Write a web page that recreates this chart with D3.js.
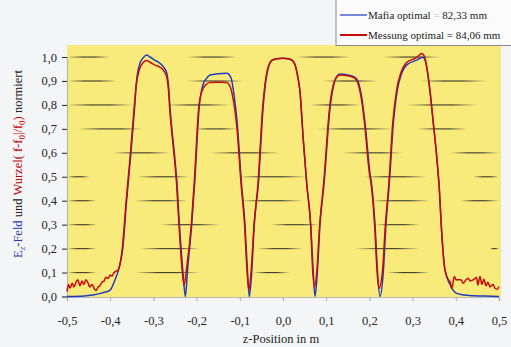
<!DOCTYPE html>
<html>
<head>
<meta charset="utf-8">
<script src="https://cdn.jsdelivr.net/npm/d3@7"></script>
<style>
  html, body { margin: 0; padding: 0; background: #f4f5f7; }
  svg { display: block; }
  svg text { font-family: "Liberation Serif", "DejaVu Serif", serif; }
</style>
</head>
<body>
<svg id="chart" width="511" height="347"></svg>
<script>
// Werte (z in m, Feld normiert)
const xTicks = [-0.5, -0.4, -0.3, -0.2, -0.1, 0.0, 0.1, 0.2, 0.3, 0.4, 0.5];
const xTickLabels = ["-0,5", "-0,4", "-0,3", "-0,2", "-0,1", "0,0", "0,1", "0,2", "0,3", "0,4", "0,5"];
const yTicks = [0, 0.1, 0.2, 0.3, 0.4, 0.5, 0.6, 0.7, 0.8, 0.9, 1.0];
const yTickLabels = ["0,0", "0,1", "0,2", "0,3", "0,4", "0,5", "0,6", "0,7", "0,8", "0,9", "1,0"];

const seriesNames = ["Mafia optimal", "Messung optimal"];
const seriesValues = ["82,33 mm", "84,06 mm"];

// Mafia (blau)
const mafia = [
  [-0.5, 0.0], [-0.46, 0.002], [-0.44, 0.006], [-0.42, 0.014], [-0.40, 0.027],
  [-0.389, 0.069], [-0.381, 0.11], [-0.371, 0.2], [-0.362, 0.4], [-0.352, 0.6],
  [-0.343, 0.8], [-0.339, 0.9], [-0.331, 0.974], [-0.323, 0.998], [-0.316, 1.008],
  [-0.308, 1.0], [-0.295, 0.985], [-0.285, 0.974], [-0.275, 0.955], [-0.269, 0.932],
  [-0.265, 0.88], [-0.2616, 0.79], [-0.25, 0.57], [-0.246, 0.487], [-0.24, 0.306],
  [-0.232, 0.11], [-0.226, 0.0], [-0.221, 0.11], [-0.211, 0.306], [-0.204, 0.487],
  [-0.194, 0.79], [-0.186, 0.88], [-0.177, 0.911], [-0.169, 0.925], [-0.15, 0.93],
  [-0.13, 0.932], [-0.12, 0.911], [-0.115, 0.862], [-0.106, 0.723], [-0.096, 0.47],
  [-0.088, 0.3], [-0.082, 0.097], [-0.078, 0.0], [-0.0725, 0.097], [-0.0665, 0.3],
  [-0.057, 0.47], [-0.046, 0.79], [-0.038, 0.92], [-0.026, 0.985], [-0.015, 0.993],
  [0.0, 0.995], [0.012, 0.993], [0.022, 0.985], [0.028, 0.967], [0.034, 0.92],
  [0.039, 0.862], [0.047, 0.653], [0.055, 0.47], [0.064, 0.3], [0.0703, 0.097],
  [0.074, 0.0], [0.0794, 0.097], [0.0856, 0.3], [0.095, 0.47], [0.109, 0.79],
  [0.117, 0.88], [0.124, 0.918], [0.132, 0.929], [0.15, 0.925], [0.1667, 0.915],
  [0.174, 0.897], [0.182, 0.834], [0.19, 0.723], [0.2014, 0.514], [0.205, 0.47],
  [0.213, 0.3], [0.219, 0.097], [0.2245, 0.0], [0.232, 0.097], [0.2384, 0.3],
  [0.246, 0.47], [0.2554, 0.723], [0.2646, 0.862], [0.2748, 0.932], [0.2864, 0.967],
  [0.3095, 0.987], [0.3234, 0.999], [0.3326, 0.96], [0.34, 0.862], [0.348, 0.723],
  [0.3558, 0.584], [0.362, 0.445], [0.367, 0.278], [0.375, 0.11], [0.387, 0.048],
  [0.402, 0.013], [0.43, 0.004], [0.467, 0.002], [0.5, 0.0]
];

// Messung (rot)
const messung = [
  [-0.5, 0.02], [-0.4965, 0.05], [-0.493, 0.035], [-0.488, 0.055], [-0.484, 0.04],
  [-0.479, 0.06], [-0.475, 0.07], [-0.470, 0.045], [-0.465, 0.065], [-0.461, 0.05],
  [-0.456, 0.07], [-0.451, 0.055], [-0.447, 0.04], [-0.442, 0.05], [-0.4375, 0.035],
  [-0.433, 0.025], [-0.428, 0.04], [-0.424, 0.045], [-0.419, 0.06], [-0.414, 0.065],
  [-0.410, 0.08], [-0.405, 0.075], [-0.400, 0.09], [-0.396, 0.085], [-0.391, 0.1],
  [-0.387, 0.105], [-0.382, 0.11], [-0.372, 0.2], [-0.363, 0.4], [-0.353, 0.6],
  [-0.344, 0.8], [-0.340, 0.88], [-0.332, 0.95], [-0.323, 0.978], [-0.316, 0.985],
  [-0.308, 0.978], [-0.295, 0.965], [-0.285, 0.958], [-0.275, 0.94], [-0.269, 0.915],
  [-0.265, 0.86], [-0.262, 0.78], [-0.251, 0.57], [-0.247, 0.487], [-0.241, 0.306],
  [-0.234, 0.12], [-0.229, 0.048], [-0.223, 0.12], [-0.212, 0.306], [-0.205, 0.487],
  [-0.195, 0.79], [-0.187, 0.86], [-0.178, 0.885], [-0.17, 0.893], [-0.15, 0.895],
  [-0.13, 0.893], [-0.122, 0.875], [-0.117, 0.84], [-0.107, 0.71], [-0.097, 0.47],
  [-0.089, 0.3], [-0.083, 0.1], [-0.079, 0.027], [-0.074, 0.1], [-0.067, 0.3],
  [-0.058, 0.47], [-0.047, 0.79], [-0.039, 0.92], [-0.027, 0.985], [-0.015, 0.993],
  [0.0, 0.995], [0.012, 0.993], [0.022, 0.985], [0.028, 0.967], [0.034, 0.92],
  [0.039, 0.862], [0.047, 0.653], [0.055, 0.47], [0.064, 0.3], [0.069, 0.1],
  [0.073, 0.038], [0.078, 0.1], [0.085, 0.3], [0.094, 0.47], [0.108, 0.79],
  [0.116, 0.88], [0.123, 0.912], [0.131, 0.925], [0.15, 0.922], [0.166, 0.912],
  [0.173, 0.893], [0.181, 0.83], [0.189, 0.72], [0.2, 0.514], [0.204, 0.47],
  [0.212, 0.3], [0.218, 0.1], [0.222, 0.034], [0.23, 0.1], [0.237, 0.3],
  [0.245, 0.47], [0.254, 0.723], [0.263, 0.862], [0.273, 0.935], [0.285, 0.975],
  [0.3, 0.99], [0.31, 0.998], [0.321, 1.015], [0.328, 1.0], [0.333, 0.955],
  [0.34, 0.862], [0.348, 0.723], [0.3558, 0.584], [0.362, 0.445], [0.367, 0.278],
  [0.375, 0.11], [0.383, 0.07], [0.387, 0.06], [0.391, 0.034], [0.3965, 0.083],
  [0.401, 0.069], [0.405, 0.07], [0.412, 0.07], [0.417, 0.055], [0.4236, 0.07],
  [0.429, 0.076], [0.433, 0.065], [0.4405, 0.07], [0.448, 0.079], [0.451, 0.048],
  [0.456, 0.083], [0.4606, 0.05], [0.465, 0.072], [0.47, 0.045], [0.4745, 0.06],
  [0.479, 0.04], [0.486, 0.05], [0.4907, 0.035], [0.4954, 0.03], [0.5, 0.041]
];

// Reste der Gitterlinien: [Niveau, z von, z bis]
const gridSegments = [
  [1.0, -0.5, -0.4], [1.0, -0.222, -0.106], [1.0, 0.032, 0.155], [1.0, 0.231, 0.363],
  [0.9, -0.5, -0.384], [0.9, -0.222, -0.093], [0.9, 0.093, 0.218], [0.9, 0.317, 0.472],
  [0.8, -0.5, -0.347], [0.8, -0.27, -0.123], [0.8, 0.0625, 0.178], [0.8, 0.287, 0.449],
  [0.7, -0.475, -0.324], [0.7, -0.208, -0.106], [0.7, 0.079, 0.255], [0.7, 0.31, 0.426],
  [0.6, -0.394, -0.262], [0.6, -0.169, -0.007], [0.6, 0.139, 0.278], [0.6, 0.387, 0.5],
  [0.5, -0.5, -0.447], [0.5, -0.338, -0.215], [0.5, -0.106, 0.056], [0.5, 0.185, 0.333], [0.5, 0.44, 0.5],
  [0.4, -0.5, -0.431], [0.4, -0.343, -0.22], [0.4, -0.0995, 0.046], [0.4, 0.206, 0.34], [0.4, 0.41, 0.5],
  [0.3, -0.5, -0.431], [0.3, -0.285, -0.146], [0.3, -0.03, 0.0856], [0.3, 0.213, 0.317],
  [0.2, -0.5, -0.431], [0.2, -0.331, -0.192], [0.2, -0.06, 0.046], [0.2, 0.167, 0.317], [0.2, 0.479, 0.5],
  [0.1, -0.5, -0.431], [0.1, -0.343, -0.192], [0.1, -0.069, 0.016], [0.1, 0.241, 0.34]
];

const serif = '"Liberation Serif", "DejaVu Serif", serif';
const svg = d3.select('#chart');

const x = d3.scaleLinear().domain([-0.5, 0.5]).range([67, 499]);
const y = d3.scaleLinear().domain([0, 1]).range([296.5, 57]);

// gelber Hintergrund
svg.append('rect')
  .attr('x', x(-0.5))
  .attr('y', 45)
  .attr('width', 434)
  .attr('height', y(0) - 45 + 1.5)
  .attr('fill', '#f9eb7b');

// Verlauf für die Gitterstriche
const defs = svg.append('defs');
const grad = defs.append('linearGradient').attr('id', 'fade');
[[0, 0], [0.35, 0.85], [0.65, 0.85], [1, 0]].forEach(([o, a]) => {
  grad.append('stop')
    .attr('offset', o)
    .attr('stop-color', '#1a1a1a')
    .attr('stop-opacity', a);
});

svg.append('g')
  .selectAll('rect')
  .data(gridSegments)
  .enter().append('rect')
  .attr('x', d => x(d[1]))
  .attr('y', d => y(d[0]) - 0.5)
  .attr('width', d => x(d[2]) - x(d[1]))
  .attr('height', 1.1)
  .attr('fill', 'url(#fade)');

// Achsen
const xAxis = svg.append('g')
  .attr('transform', `translate(0,${y(0) + 0.5})`)
  .call(d3.axisBottom(x)
    .tickValues(xTicks)
    .tickSize(4)
    .tickPadding(15)
    .tickFormat((d, i) => xTickLabels[i]));

const yAxis = svg.append('g')
  .attr('transform', `translate(${x(-0.5)},0)`)
  .call(d3.axisLeft(y)
    .tickValues(yTicks)
    .tickSize(5)
    .tickPadding(5)
    .tickFormat((d, i) => yTickLabels[i]));

[xAxis, yAxis].forEach(g => {
  g.attr('font-family', serif).attr('font-size', 12.5);
  g.select('.domain').attr('stroke', '#b8b8b8').attr('stroke-width', 1.2);
  g.selectAll('.tick text').attr('fill', '#262626');
});
xAxis.selectAll('.tick line').attr('stroke', '#a8a8a8');
yAxis.selectAll('.tick line').attr('stroke', '#222');

// Kurven
const line = d3.line()
  .x(d => x(d[0]))
  .y(d => y(d[1]))
  .curve(d3.curveMonotoneX);

svg.append('path')
  .datum(mafia)
  .attr('fill', 'none')
  .attr('stroke', '#1f3cc0')
  .attr('stroke-width', 1.5)
  .attr('d', line);

svg.append('path')
  .datum(messung)
  .attr('fill', 'none')
  .attr('stroke', '#c80a0a')
  .attr('stroke-width', 1.5)
  .attr('d', line);

// Achsentitel
svg.append('text')
  .attr('x', x(0) - 2)
  .attr('y', 343)
  .attr('text-anchor', 'middle')
  .attr('fill', '#222')
  .attr('font-family', serif)
  .attr('font-size', 12.5)
  .text('z-Position in m');

const yLabel = svg.append('text')
  .attr('transform', 'translate(22,164) rotate(-90)')
  .attr('text-anchor', 'middle')
  .attr('font-family', serif)
  .attr('font-size', 12.5);
yLabel.append('tspan').attr('fill', '#2438b8').text('E');
yLabel.append('tspan').attr('fill', '#2438b8').attr('dy', 3).attr('font-size', 9).attr('font-style', 'italic').text('z');
yLabel.append('tspan').attr('fill', '#2438b8').attr('dy', -3).text('-Feld');
yLabel.append('tspan').attr('fill', '#222').text(' und ');
yLabel.append('tspan').attr('fill', '#c00000').text('Wurzel( f-f');
yLabel.append('tspan').attr('fill', '#c00000').attr('dy', 3).attr('font-size', 9).text('0');
yLabel.append('tspan').attr('fill', '#c00000').attr('dy', -3).text('|/f');
yLabel.append('tspan').attr('fill', '#c00000').attr('dy', 3).attr('font-size', 9).text('0');
yLabel.append('tspan').attr('fill', '#c00000').attr('dy', -3).text(')');
yLabel.append('tspan').attr('fill', '#222').text(' normiert');

// Legende
const legend = svg.append('g');
legend.append('rect')
  .attr('x', 336).attr('y', -2)
  .attr('width', 180).attr('height', 47.5)
  .attr('fill', '#fbfbfc')
  .attr('stroke', '#8a8a8a')
  .attr('stroke-width', 1);

const legendColors = ['#1f3cc0', '#c80a0a'];
seriesNames.forEach((name, i) => {
  const ly = 15 + i * 20;
  legend.append('line')
    .attr('x1', 340).attr('x2', 367)
    .attr('y1', ly).attr('y2', ly)
    .attr('stroke', legendColors[i])
    .attr('stroke-width', i === 0 ? 1.2 : 2);
  const t = legend.append('text')
    .attr('x', 368).attr('y', ly + 3.5)
    .attr('fill', '#222')
    .attr('font-family', serif)
    .attr('font-size', 11);
  t.append('tspan').text(name + ' ');
  t.append('tspan').attr('fill', i === 0 ? '#c8c8c8' : '#222').text('= ');
  t.append('tspan').text(seriesValues[i]);
});
</script>
</body>
</html>
